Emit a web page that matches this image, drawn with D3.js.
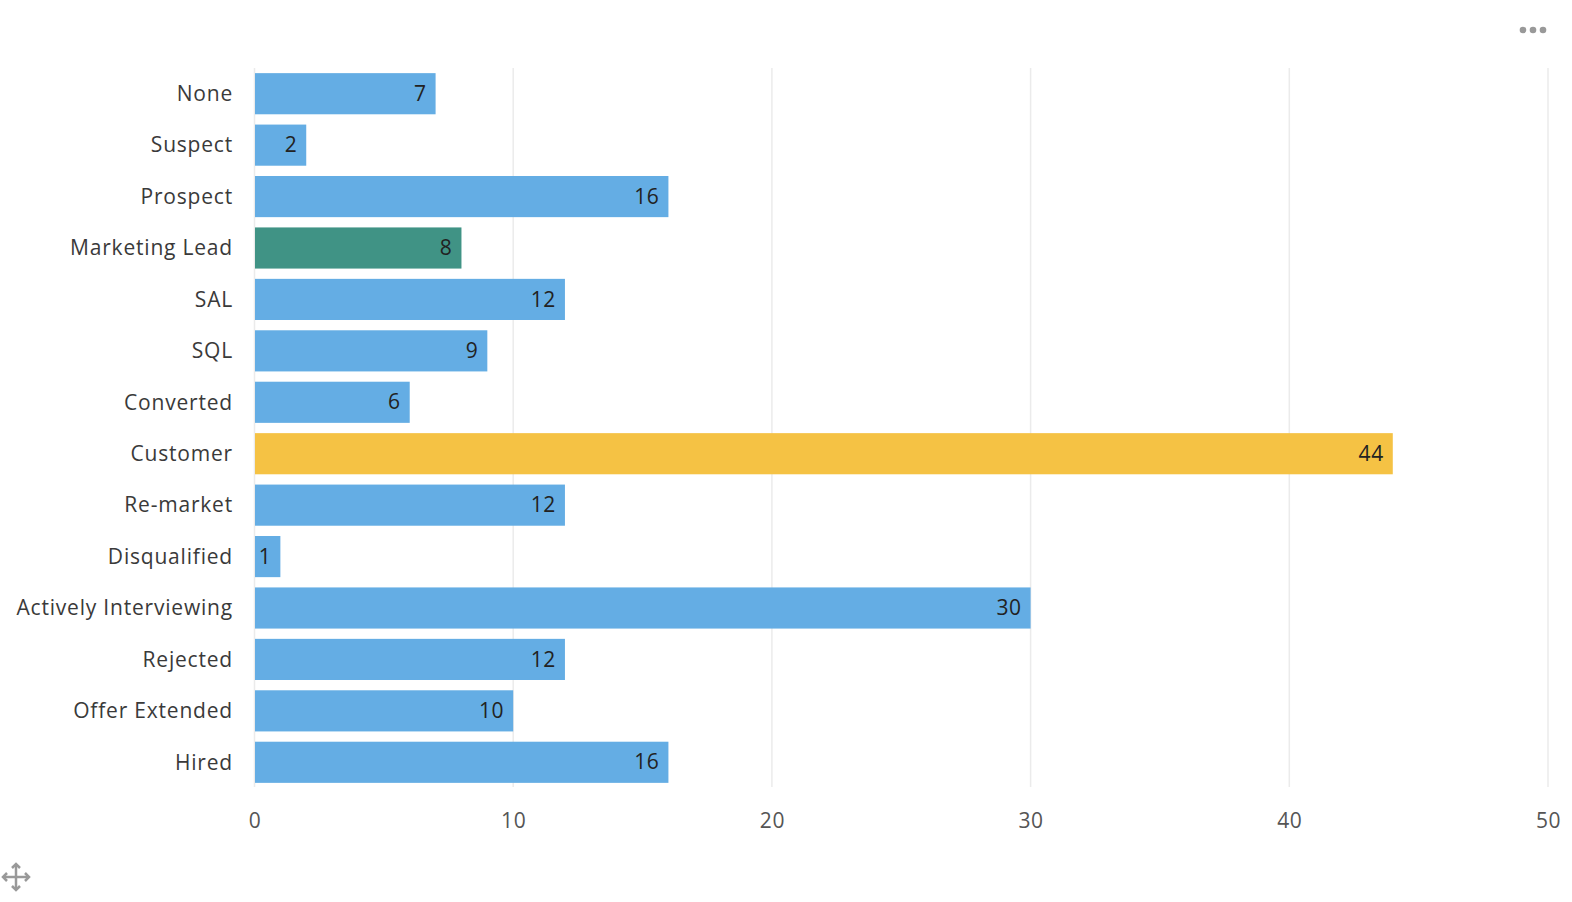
<!DOCTYPE html>
<html><head><meta charset="utf-8">
<script src="https://cdn.jsdelivr.net/npm/d3@7"></script>
<style>
html,body{margin:0;padding:0;background:#fff;}
svg{display:block;font-family:"Open Sans",Lato,sans-serif;}
</style></head>
<body>
<svg id="chart" width="1572" height="902"></svg>
<script>
const categories = ["None","Suspect","Prospect","Marketing Lead","SAL","SQL","Converted","Customer","Re-market","Disqualified","Actively Interviewing","Rejected","Offer Extended","Hired"];
const values = [7,2,16,8,12,9,6,44,12,1,30,12,10,16];
const barColors = ["#64ade4","#64ade4","#64ade4","#409385","#64ade4","#64ade4","#64ade4","#f5c244","#64ade4","#64ade4","#64ade4","#64ade4","#64ade4","#64ade4"];
const xTicks = [0,10,20,30,40,50];
const FONT = "'Open Sans',Lato,sans-serif";

const svg = d3.select("#chart");
const x = d3.scaleLinear().domain([0,50]).range([254.5,1548]);
const y = d3.scaleBand().domain(categories).range([68,788]).paddingInner(0.2).paddingOuter(0.1);

// grid
svg.append("g").selectAll("line").data(xTicks).join("line")
  .attr("x1",d=>x(d)).attr("x2",d=>x(d)).attr("y1",68).attr("y2",787)
  .attr("stroke","#ebebeb").attr("stroke-width",1.5);

// bars
svg.append("g").selectAll("rect").data(categories).join("rect")
  .attr("x",x(0)+0.5).attr("y",d=>y(d))
  .attr("width",(d,i)=>x(values[i])-x(0)-0.5)
  .attr("height",y.bandwidth())
  .attr("fill",(d,i)=>barColors[i]);

// value labels
svg.append("g").selectAll("text").data(categories).join("text")
  .attr("x",(d,i)=>x(values[i])-9)
  .attr("y",d=>y(d)+y.bandwidth()/2+1.5)
  .attr("text-anchor","end").attr("dominant-baseline","middle")
  .attr("font-size",21).attr("letter-spacing",0.6).attr("fill","#222").attr("font-family",FONT)
  .text((d,i)=>values[i]);

// y axis labels
const yAxis = d3.axisLeft(y).tickSize(0).tickPadding(0);
const ya = svg.append("g").attr("transform","translate(233,0.5)").call(yAxis);
ya.select(".domain").remove();
ya.selectAll("text").attr("font-size",21).attr("letter-spacing",0.8).attr("fill","#3a3a3a").attr("font-family",FONT);

// x axis
const xAxis = d3.axisBottom(x).tickValues(xTicks).tickSize(0).tickPadding(0);
const xa = svg.append("g").attr("transform","translate(0,813)").call(xAxis);
xa.select(".domain").remove();
xa.selectAll("text").attr("font-size",21).attr("letter-spacing",0.6).attr("fill","#555").attr("font-family",FONT);

// menu dots
svg.append("g").selectAll("circle").data([0,1,2]).join("circle")
  .attr("cx",d=>1523+d*10).attr("cy",30).attr("r",3.3).attr("fill","#999");

// move icon
const mi = svg.append("g").attr("transform","translate(16,877)").attr("stroke","#999").attr("stroke-width",2.5).attr("fill","none");
mi.append("line").attr("x1",-12).attr("x2",12).attr("y1",0).attr("y2",0);
mi.append("line").attr("y1",-12).attr("y2",12).attr("x1",0).attr("x2",0);
mi.append("path").attr("d","M-4,-9 L0,-13 L4,-9 M-4,9 L0,13 L4,9 M-9,-4 L-13,0 L-9,4 M9,-4 L13,0 L9,4");
</script>
</body></html>
